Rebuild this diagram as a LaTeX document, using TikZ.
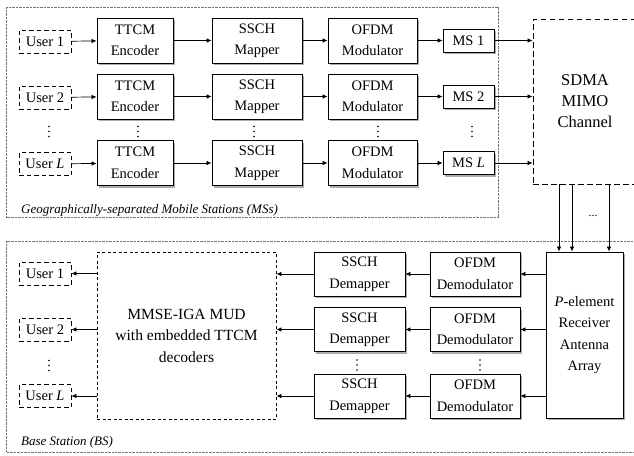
\documentclass[tikz,border=0pt]{standalone}
\usepackage{fontspec}
\setmainfont{Liberation Serif}
\usetikzlibrary{arrows.meta,shadows}

% three stacked dots marking omitted rows
\newcommand{\colgap}[2]{%
  \fill (#1,#2-5) circle (0.85pt);
  \fill (#1,#2) circle (0.85pt);
  \fill (#1,#2+5) circle (0.85pt);}

\begin{document}
\begin{tikzpicture}[x=1pt,y=-1pt,
  txt/.style={font=\fontsize{14.5}{21.5}\selectfont},
  blk/.style={txt, draw, line width=0.9pt, fill=white, align=center, inner sep=0pt,
    drop shadow={shadow xshift=2pt, shadow yshift=-2pt, fill=gray!65, opacity=1}},
  userbox/.style={txt, draw, line width=0.9pt, dash pattern=on 4.5pt off 3pt,
    minimum width=52pt, minimum height=23pt, inner sep=0pt},
  enc/.style={blk, minimum width=76pt, minimum height=45pt},
  map/.style={blk, minimum width=90pt, minimum height=45pt},
  mod/.style={blk, minimum width=89pt, minimum height=45pt},
  msbox/.style={blk, minimum width=51pt, minimum height=23pt},
  demap/.style={blk, minimum width=91pt, minimum height=44pt},
  demod/.style={blk, minimum width=90pt, minimum height=44pt},
  arr/.style={line width=0.7pt, -{Latex[length=5pt,width=4.5pt]}},
  frame/.style={gray!90!black, line width=0.6pt, dash pattern=on 0.7pt off 0.7pt},
  captext/.style={font=\fontsize{13}{15}\selectfont\itshape, anchor=west, inner sep=0pt}
]
\useasboundingbox (0,0) rectangle (634,455);
\clip (0,0) rectangle (634,455);

% ---- enclosing frames ----
\draw[frame] (6.5,7) rectangle (498,217);
\draw[frame] (6.5,241) rectangle (640,452);
\node[captext] (capms) at (21,210) {Geographically-separated Mobile Stations (MSs)};
\node[captext] (capbs) at (21,442) {Base Station (BS)};

% ---- transmitter chains ----
\node[userbox] (u1) at (45,41.5) {User 1};
\node[userbox] (u2) at (45,97.5) {User 2};
\node[userbox] (uL) at (45,164) {User \textit{L}};

\node[enc] (enc1) at (135,40.5) {TTCM\\Encoder};
\node[enc] (enc2) at (135,96.5) {TTCM\\Encoder};
\node[enc] (encL) at (135,163) {TTCM\\Encoder};

\node[map] (map1) at (257,40.5) {SSCH\\Mapper};
\node[map] (map2) at (257,96.5) {SSCH\\Mapper};
\node[map] (mapL) at (257,163) {SSCH\\Mapper};

\node[mod] (mod1) at (372.5,40.5) {OFDM\\Modulator};
\node[mod] (mod2) at (372.5,96.5) {OFDM\\Modulator};
\node[mod] (modL) at (372.5,163) {OFDM\\Modulator};

\node[msbox] (ms1) at (468.5,40.5) {MS 1};
\node[msbox] (ms2) at (468.5,96.5) {MS 2};
\node[msbox] (msL) at (468.5,163) {MS \textit{L}};

\colgap{49}{131.5}
\colgap{138}{131.5}
\colgap{254}{131.5}
\colgap{378}{131.5}
\colgap{472}{131.5}

% ---- channel ----
\node[draw, line width=0.9pt, dash pattern=on 5.5pt off 3.5pt, minimum width=104pt,
  minimum height=165pt, inner sep=0pt, align=center,
  font=\fontsize{16.5}{21}\selectfont] (ch) at (585,101.5) {SDMA\\MIMO\\Channel};

\foreach \r in {1,2,L}{
  \draw[arr] (u\r) -- (enc\r);
  \draw[arr] (enc\r) -- (map\r);
  \draw[arr] (map\r) -- (mod\r);
  \draw[arr] (mod\r) -- (ms\r);
  \draw[arr] (ms\r) -- (ms\r -| ch.west);
}

% ---- receiver ----
\node[blk, minimum width=77pt, minimum height=166pt] (rx) at (584.5,335)
  {\textit{P}-element\\Receiver\\Antenna\\Array};

\node[demod] (dm1) at (475,274) {OFDM\\Demodulator};
\node[demod] (dm2) at (475,329.5) {OFDM\\Demodulator};
\node[demod] (dmL) at (475,396) {OFDM\\Demodulator};

\node[demap] (dp1) at (359.5,274) {SSCH\\Demapper};
\node[demap] (dp2) at (359.5,329.5) {SSCH\\Demapper};
\node[demap] (dpL) at (359.5,396) {SSCH\\Demapper};

\node[draw, line width=0.9pt, dash pattern=on 3pt off 2.5pt, minimum width=179pt,
  minimum height=167pt, inner sep=0pt, align=center,
  font=\fontsize{15.5}{21.5}\selectfont] (mud) at (186.5,335.5)
  {MMSE-IGA MUD\\with embedded TTCM\\decoders};

\node[userbox] (v1) at (45,273.5) {User 1};
\node[userbox] (v2) at (45,329.5) {User 2};
\node[userbox] (vL) at (45,396) {User \textit{L}};

\colgap{49}{365.5}
\colgap{357}{365}
\colgap{480}{365}

\foreach \r in {1,2,L}{
  \draw[arr] (dm\r -| rx.west) -- (dm\r);
  \draw[arr] (dm\r) -- (dp\r);
  \draw[arr] (dp\r) -- (dp\r -| mud.east);
  \draw[arr] (v\r -| mud.west) -- (v\r);
}

% ---- antenna links from channel to receiver ----
\coordinate (a1) at (559,0);
\coordinate (a2) at (572,0);
\coordinate (a3) at (609,0);
\foreach \a in {a1,a2,a3}
  \draw[arr] (ch.south -| \a) -- (rx.north -| \a);
\node[inner sep=0pt, font=\fontsize{12}{14}\selectfont] (adots) at (593,216) {...};

\end{tikzpicture}
\end{document}
